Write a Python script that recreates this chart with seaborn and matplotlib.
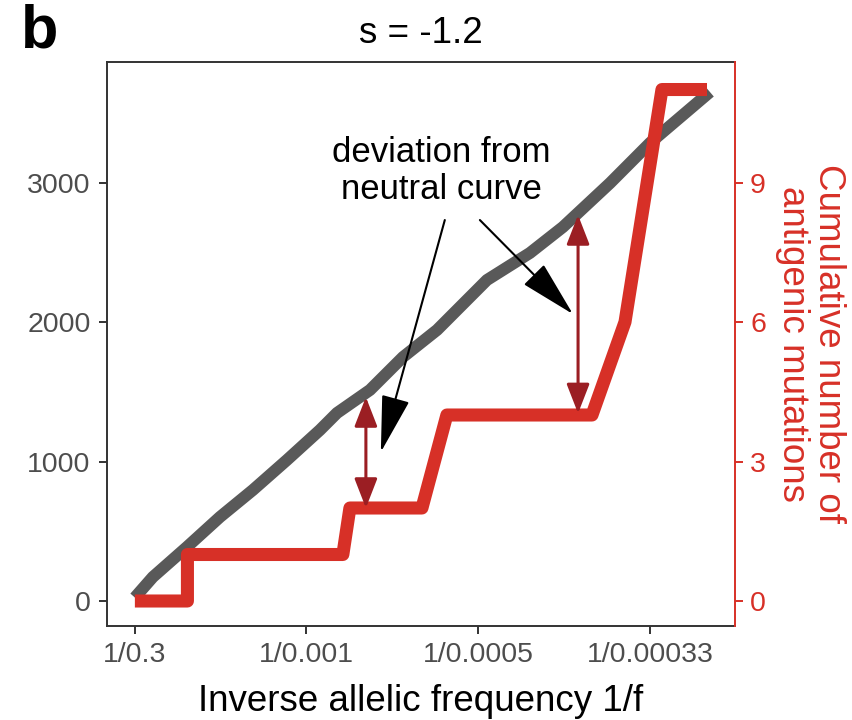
import matplotlib
matplotlib.use("Agg")
import matplotlib.pyplot as plt
import seaborn as sns
import pandas as pd

# neutral curve (left axis) and antigenic mutations (right axis)
gray_x = [3.33, 108, 306, 498, 690, 888, 1080, 1179, 1371, 1563, 1761, 2051, 2301, 2493, 2767, 2999, 3348]
gray_y = [25, 172, 387, 602, 796, 1011, 1226, 1348, 1513, 1749, 1943, 2301, 2495, 2681, 2996, 3283, 3649]

red_x = [3.33, 309, 309, 1213, 1254, 1673, 1818, 2662, 2854, 3069, 3331]
red_y = [0, 0, 1, 1, 2, 2, 4, 4, 6, 11, 11]

xtick_pos = [1 / 0.3, 1000, 2000, 3000]
xtick_labels = ["1/0.3", "1/0.001", "1/0.0005", "1/0.00033"]
left_ticks = [0, 1000, 2000, 3000]
right_ticks = [0, 3, 6, 9]

# deviation arrows: (x, y_bottom, y_top) in left axis units
dev_arrows = [(1347, 667, 1462), (2581, 1345, 2767)]

RED = "#D73027"
DARKRED = "#9B1E23"
GRAY = "#595959"
TICKGRAY = "#4D4D4D"

sns.set_style("white")
plt.rcParams["font.family"] = ["Liberation Sans", "DejaVu Sans"]
plt.rcParams["text.color"] = "black"

df_gray = pd.DataFrame({"x": gray_x, "y": gray_y})
df_red = pd.DataFrame({"x": red_x, "y": red_y})

fig = plt.figure(figsize=(8.53, 7.2), dpi=100)
ax = fig.add_axes([0.1254, 0.1306, 0.7363, 0.7833])
ax2 = ax.twinx()

sns.lineplot(data=df_gray, x="x", y="y", ax=ax, color=GRAY, linewidth=8.6,
             estimator=None, sort=False, solid_capstyle="butt", solid_joinstyle="round")
sns.lineplot(data=df_red, x="x", y="y", ax=ax2, color=RED, linewidth=9.4,
             estimator=None, sort=False, solid_capstyle="butt", solid_joinstyle="round")

ax.set_xlim(-159, 3494)
ax.set_ylim(-179, 3864)
ax2.set_ylim(-179 / (1000 / 3), 3864 / (1000 / 3))

ax.set_xticks(xtick_pos)
ax.set_xticklabels(xtick_labels)
ax.set_yticks(left_ticks)
ax2.set_yticks(right_ticks)

ax.tick_params(axis="both", labelsize=20.5, labelcolor=TICKGRAY, color="#333333",
               length=5.8, width=1.4, direction="out", left=True, bottom=True, pad=6)
ax2.tick_params(axis="y", labelsize=20.5, labelcolor=RED, color=RED,
                length=5.8, width=1.4, direction="out", right=True, pad=5)

for side in ["left", "bottom", "top"]:
    ax.spines[side].set_color("#333333")
    ax.spines[side].set_linewidth(1.4)
ax.spines["right"].set_visible(False)
for side in ["left", "bottom", "top"]:
    ax2.spines[side].set_visible(False)
ax2.spines["right"].set_color(RED)
ax2.spines["right"].set_linewidth(1.4)

ax.set_xlabel("Inverse allelic frequency 1/f", fontsize=26.5, color="black", labelpad=11)
ax.set_ylabel("")
ax2.set_ylabel("Cumulative number of\nantigenic mutations", fontsize=26.5, color=RED,
               rotation=270, linespacing=1.05, multialignment="center")
ax2.yaxis.label.set_rotation_mode("default")
ax2.yaxis.label.set_ha("center")
ax2.yaxis.label.set_va("center")
ax2.yaxis.set_label_coords(1.12, 0.5)

ax.set_title("s = -1.2", fontsize=26.5, pad=13.7, color="black")
fig.text(21 / 853, 1 - 48 / 720, "b", fontsize=44, fontweight="bold", va="baseline",
         ha="left", color="black")

# annotation text and arrows
ax2.text(1784, 3082, "deviation from\nneutral curve", transform=ax.transData,
         fontsize=25, ha="center", va="center", linespacing=1.15, color="black")
ax2.annotate("", xy=(1434, 1068), xytext=(1806, 2731), xycoords=ax.transData,
             textcoords=ax.transData,
             arrowprops=dict(arrowstyle="-|>,head_length=36,head_width=9", color="black",
                             lw=1.5, shrinkA=0, shrinkB=0, mutation_scale=1))
ax2.annotate("", xy=(2551, 2057), xytext=(2010, 2731), xycoords=ax.transData,
             textcoords=ax.transData,
             arrowprops=dict(arrowstyle="-|>,head_length=36,head_width=9", color="black",
                             lw=1.5, shrinkA=0, shrinkB=0, mutation_scale=1))
for xa, yb, yt in dev_arrows:
    ax2.annotate("", xy=(xa, yt), xytext=(xa, yb), xycoords=ax.transData,
                 textcoords=ax.transData,
                 arrowprops=dict(arrowstyle="<|-|>,head_length=18,head_width=7", color=DARKRED,
                                 lw=2.2, shrinkA=0, shrinkB=0, mutation_scale=1))

plt.savefig("out.png", dpi=100)
